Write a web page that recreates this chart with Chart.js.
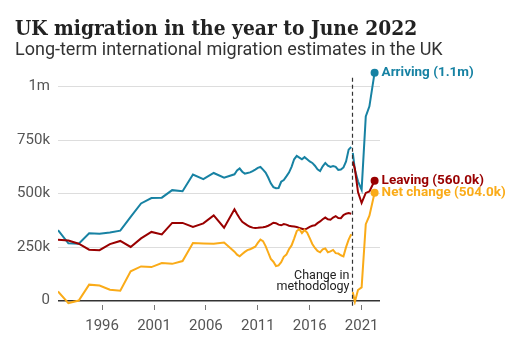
<!DOCTYPE html>
<html>
<head>
<meta charset="utf-8">
<script src="https://cdn.jsdelivr.net/npm/chart.js@4.4.1/dist/chart.umd.min.js"></script>
<style>
  html, body { margin: 0; padding: 0; background: #fff; }
  #wrap { position: relative; width: 520px; height: 339px; overflow: hidden; }
  #chart { position: absolute; left: 0; top: 0; }
  .title {
    position: absolute; left: 15px; top: 17px;
    font: bold 21px "DejaVu Serif", serif; line-height: 21px;
    color: #222; white-space: nowrap;
    transform-origin: left top; transform: scaleX(0.89);
  }
  .subtitle {
    position: absolute; left: 15px; top: 40px;
    font: 18px Roboto, sans-serif; line-height: 18px;
    color: #333; white-space: nowrap;
  }
</style>
</head>
<body>
<div id="wrap">
  <canvas id="chart" width="520" height="339"></canvas>
  <div class="title">UK migration in the year to June 2022</div>
  <div class="subtitle">Long-term international migration estimates in the UK</div>
</div>
<script>
// Previous method: calendar years 1991-2007, then rolling quarterly estimates (thousands)
const oldDates = [
  1991.75, 1992.75, 1993.75, 1994.75, 1995.75, 1996.75, 1997.75, 1998.75, 1999.75,
  2000.75, 2001.75, 2002.75, 2003.75, 2004.75, 2005.75, 2006.75, 2007.75,
  2008.75, 2009, 2009.25, 2009.5, 2009.75, 2010, 2010.25, 2010.5, 2010.75,
  2011, 2011.25, 2011.5, 2011.75, 2012, 2012.25, 2012.5, 2012.75,
  2013, 2013.25, 2013.5, 2013.75, 2014, 2014.25, 2014.5, 2014.75,
  2015, 2015.25, 2015.5, 2015.75, 2016, 2016.25, 2016.5, 2016.75,
  2017, 2017.25, 2017.5, 2017.75, 2018, 2018.25, 2018.5, 2018.75,
  2019, 2019.25, 2019.5, 2019.75, 2020
];
const oldArriving = [
  329, 268, 266, 315, 312, 318, 327, 391, 454, 479, 481, 516, 511, 589, 567, 596, 574,
  590, 608, 617, 602, 593, 596, 599, 605, 612, 620, 624, 612, 598, 575, 548, 530,
  525, 526, 555, 563, 580, 598, 625, 660, 676, 668, 660, 670, 660, 650, 643, 630,
  613, 605, 627, 643, 630, 624, 628, 625, 610, 612, 622, 650, 705, 717
];
const oldLeaving = [
  285, 281, 266, 238, 236, 264, 279, 251, 291, 321, 309, 363, 363, 344, 361, 398, 341,
  427, 405, 385, 368, 360, 352, 345, 341, 339, 340, 342, 343, 345, 350, 356, 364,
  362, 355, 352, 358, 355, 350, 348, 346, 344, 340, 336, 332, 338, 345, 350, 352,
  362, 370, 380, 388, 380, 378, 388, 395, 386, 385, 400, 406, 409, 406
];
const oldNet = [
  43, -11, 1, 75, 71, 51, 47, 137, 160, 157, 176, 172, 185, 269, 267, 266, 272,
  229, 215, 207, 218, 228, 236, 240, 246, 252, 270, 285, 278, 255, 225, 195, 182,
  162, 165, 180, 205, 215, 240, 258, 290, 325, 334, 316, 330, 318, 292, 265, 246,
  232, 226, 240, 244, 226, 230, 237, 222, 220, 212, 207, 250, 285, 310
];

// New method estimates, up to the year ending June 2022 (thousands)
const newDates = [2020.15, 2020.35, 2020.65, 2021.0, 2021.4, 2021.75, 2022.25];
const newArriving = [690, 611, 557, 518, 860, 907, 1064];
const newLeaving = [650, 616, 507, 456, 503, 510, 560];
const newNet = [40, -5, 50, 62, 357, 397, 504];

const seriesNames = ['Arriving', 'Leaving', 'Net change'];
const methodologyChange = 2020.1;
const methodologyNote = ['Change in', 'methodology'];

const xTickValues = [1996, 2001, 2006, 2011, 2016, 2021];
const xTickLabels = ['1996', '2001', '2006', '2011', '2016', '2021'];
const yTickValues = [0, 250, 500, 750, 1000];
const yTickLabels = ['0', '250k', '500k', '750k', '1m'];

const colors = { arriving: '#1782A3', leaving: '#990000', net: '#FAAB18' };

function toPoints(dates, values) {
  return dates.map((d, i) => ({ x: d, y: values[i] }));
}

function lineSet(label, dates, values, color, endDot) {
  return {
    label,
    data: toPoints(dates, values),
    borderColor: color,
    backgroundColor: color,
    borderWidth: 2,
    tension: 0,
    fill: false,
    pointRadius: endDot ? (c => (c.dataIndex === values.length - 1 ? 4 : 0)) : 0,
    pointHoverRadius: 0,
    pointBorderWidth: 0,
    endLabel: endDot ? label : null
  };
}

function formatValue(v) {
  return v >= 1000 ? (v / 1000).toFixed(1) + 'm' : v.toFixed(1) + 'k';
}

// Dashed methodology marker, its note and the end-of-line labels
const annotations = {
  id: 'annotations',
  afterDatasetsDraw(chart) {
    const { ctx, chartArea, scales: { x, y } } = chart;
    const xp = Math.round(x.getPixelForValue(methodologyChange)) + 0.5;
    ctx.save();
    ctx.strokeStyle = '#333';
    ctx.lineWidth = 1.2;
    ctx.setLineDash([4, 3]);
    ctx.beginPath();
    ctx.moveTo(xp, y.getPixelForValue(1040));
    ctx.lineTo(xp, chartArea.bottom + 2);
    ctx.stroke();
    ctx.setLineDash([]);

    ctx.font = '12.5px Roboto, sans-serif';
    ctx.fillStyle = '#222';
    ctx.textAlign = 'right';
    ctx.textBaseline = 'middle';
    const y0 = y.getPixelForValue(0);
    ctx.fillText(methodologyNote[0], xp - 3, y0 - 25);
    ctx.fillText(methodologyNote[1], xp - 3, y0 - 14);

    ctx.font = 'bold 13.5px Roboto, sans-serif';
    ctx.textAlign = 'left';
    chart.data.datasets.forEach((ds, i) => {
      if (!ds.endLabel) return;
      const meta = chart.getDatasetMeta(i);
      const last = meta.data[meta.data.length - 1];
      const v = ds.data[ds.data.length - 1].y;
      ctx.fillStyle = ds.borderColor;
      ctx.fillText(ds.endLabel + ' (' + formatValue(v) + ')', last.x + 7, last.y);
    });
    ctx.restore();
  }
};

new Chart(document.getElementById('chart'), {
  type: 'line',
  data: {
    datasets: [
      lineSet(seriesNames[2], oldDates, oldNet, colors.net, false),
      lineSet(seriesNames[2], newDates, newNet, colors.net, true),
      lineSet(seriesNames[1], oldDates, oldLeaving, colors.leaving, false),
      lineSet(seriesNames[1], newDates, newLeaving, colors.leaving, true),
      lineSet(seriesNames[0], oldDates, oldArriving, colors.arriving, false),
      lineSet(seriesNames[0], newDates, newArriving, colors.arriving, true)
    ]
  },
  options: {
    responsive: false,
    animation: false,
    devicePixelRatio: 1,
    layout: { padding: { top: 65, right: 140, left: 0, bottom: 0 } },
    plugins: { legend: { display: false }, tooltip: { enabled: false } },
    scales: {
      x: {
        type: 'linear',
        min: 1991.75,
        max: 2022.77,
        afterBuildTicks: s => { s.ticks = xTickValues.map(v => ({ value: v })); },
        afterFit: s => { s.height = 34; },
        ticks: {
          callback: v => xTickLabels[xTickValues.indexOf(v)],
          autoSkip: false,
          maxRotation: 0,
          padding: 7,
          color: '#555',
          font: { family: 'Roboto', size: 15 }
        },
        grid: { drawOnChartArea: false, drawTicks: true, tickLength: 5, color: '#777' },
        border: { display: false }
      },
      y: {
        min: -20,
        max: 1100,
        afterBuildTicks: s => { s.ticks = yTickValues.map(v => ({ value: v })); },
        afterFit: s => { s.width = 58; },
        ticks: {
          callback: v => yTickLabels[yTickValues.indexOf(v)],
          padding: 8,
          color: '#555',
          font: { family: 'Roboto', size: 15 }
        },
        grid: {
          drawTicks: false,
          color: c => (c.tick && c.tick.value === 0 ? '#333' : '#dddddd'),
          lineWidth: c => (c.tick && c.tick.value === 0 ? 1.5 : 1)
        },
        border: { display: false }
      }
    }
  },
  plugins: [annotations]
});
</script>
</body>
</html>
